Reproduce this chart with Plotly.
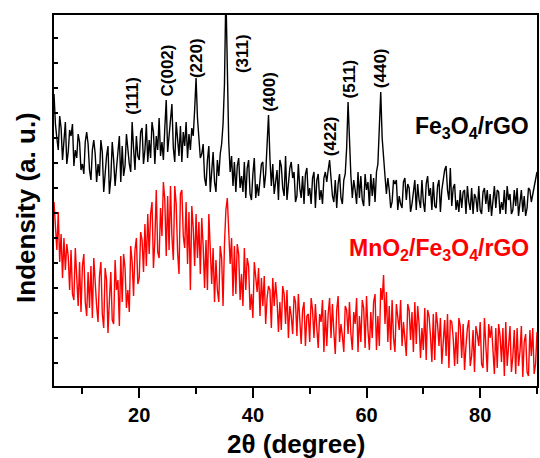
import plotly.graph_objects as go

# 2-theta scan grid (degrees), 0.25 deg step from 5 to 90
two_theta = [5 + 0.25 * i for i in range(341)]

# Fe3O4/rGO intensity (a.u.), 4 points per degree
fe3o4_rgo = [
    292, 262, 248, 236,  270, 258, 226, 244,  264, 222, 234, 256,  250, 262, 220, 236,   # 5-8
    228, 252, 244, 216,  222, 212, 244, 254,  242, 216, 206, 236,  246, 232, 204, 222,   # 9-12
    210, 246, 234, 194,  214, 230, 240, 192,  208, 244, 226, 200,  218, 236, 250, 204,   # 13-16
    240, 210, 220, 252,  232, 222, 214, 264,  238, 216, 250, 230,  226, 254, 258, 222,   # 17-20
    236, 262, 224, 246,  228, 264, 254, 222,  250, 236, 268, 230,  244, 226, 258, 286,   # 21-24
    234, 248, 262, 282,  238, 224, 264, 250,  230, 260, 224, 254,  240, 264, 228, 252,   # 25-28
    236, 258, 250, 276,  308, 268, 244, 228,  232, 242, 208, 200,  226, 240, 194, 214,   # 29-32
    234, 204, 194, 226,  210, 232, 242, 262,  302, 395, 298, 244,  214, 230, 200, 224,   # 33-36
    194, 220, 228, 198,  210, 194, 224, 188,  218, 226, 192, 186,  212, 228, 188, 202,   # 37-40
    190, 206, 222, 224,  198, 212, 236, 271,  228, 200, 222, 192,  204, 216, 186, 226,   # 41-44
    220, 198, 190, 230,  186, 200, 218, 224,  208, 214, 184, 190,  222, 198, 188, 210,   # 45-48
    182, 212, 218, 190,  198, 182, 208, 214,  178, 206, 212, 186,  196, 182, 208, 214,   # 49-52
    204, 216, 226, 208,  190, 184, 206, 178,  202, 212, 188, 182,  206, 212, 238, 284,   # 53-56
    242, 210, 188, 206,  196, 182, 214, 188,  210, 186, 180, 212,  196, 204, 180, 212,   # 57-60
    190, 208, 184, 214,  222, 262, 294, 248,  224, 210, 192, 208,  196, 178, 184, 206,   # 61-64
    202, 206, 176, 190,  182, 178, 204, 208,  186, 202, 198, 174,  182, 194, 206, 176,   # 65-68
    202, 186, 178, 206,  184, 174, 202, 210,  190, 198, 176, 204,  180, 178, 200, 206,   # 69-72
    174, 196, 208, 216,  220, 196, 186, 218,  180, 198, 202, 176,  186, 174, 196, 178,   # 73-76
    194, 196, 172, 200,  184, 176, 198, 172,  192, 188, 174, 200,  176, 172, 194, 198,   # 77-80
    182, 196, 174, 192,  170, 186, 200, 178,  196, 194, 172, 184,  176, 196, 172, 200,   # 81-84
    186, 192, 172, 176,  196, 180, 198, 170,  184, 196, 174, 190,  170, 178, 198, 196,   # 85-88
    184, 192, 200, 210,                                                                   # 89
    214,                                                                                  # 90
]

# MnO2/Fe3O4/rGO intensity (a.u.)
mno2_fe3o4_rgo = [
    184, 162, 136, 174,  124, 152, 108, 148,  116, 142, 130, 96,  136, 92, 86, 138,      # 5-8
    104, 80, 124, 74,  120, 132, 84, 70,  114, 78, 120, 68,  128, 96, 80, 64,            # 9-12
    110, 124, 72, 58,  118, 106, 53, 86,  114, 66, 62, 126,  96, 106, 60, 130,           # 13-16
    84, 132, 118, 78,  96, 74, 140, 124,  90, 136, 148, 102,  108, 154, 146, 114,        # 17-20
    162, 120, 172, 132,  172, 184, 118, 146,  196, 134, 128, 178,  150, 204, 186, 130,   # 21-24
    190, 136, 200, 150,  126, 200, 182, 134,  112, 192, 196, 150,  138, 184, 122, 174,   # 25-28
    96, 180, 158, 120,  172, 128, 164, 112,  168, 140, 98, 146,  96, 172, 132, 102,      # 29-32
    138, 84, 126, 96,  84, 140, 128, 80,  142, 176, 188, 148,  122, 148, 90, 140,        # 33-36
    92, 142, 132, 86,  112, 80, 138, 96,  128, 120, 76, 92,  68, 124, 112, 94,           # 37-40
    118, 70, 108, 80,  110, 62, 88, 100,  96, 58, 108, 80,  104, 86, 54, 84,             # 41-44
    56, 100, 92, 62,  96, 48, 80, 70,  52, 90, 84, 50,  92, 62, 42, 76,                  # 45-48
    84, 40, 70, 72,  44, 88, 76, 48,  82, 58, 38, 72,  64, 86, 34, 76,                   # 49-52
    40, 72, 88, 48,  82, 54, 32, 76,  90, 44, 62, 50,  34, 80, 76, 52,                   # 53-56
    84, 52, 36, 74,  62, 88, 34, 70,  44, 86, 78, 38,  90, 56, 36, 74,                   # 57-60
    48, 84, 92, 36,  70, 40, 98, 86,  111, 62, 94, 44,  80, 36, 86, 48,                  # 61-64
    34, 82, 70, 56,  86, 40, 64, 50,  30, 82, 76, 46,  74, 34, 84, 42,                   # 65-68
    80, 62, 28, 58,  36, 78, 26, 76,  70, 50, 24, 72,  26, 74, 62, 40,                   # 69-72
    68, 22, 44, 66,  30, 72, 18, 66,  64, 48, 20, 54,  22, 68, 60, 28,                   # 73-76
    62, 16, 40, 58,  66, 20, 30, 56,  14, 60, 52, 40,  64, 22, 18, 68,                   # 77-80
    40, 14, 62, 48,  60, 28, 12, 58,  18, 62, 50, 24,  58, 10, 64, 20,                   # 81-84
    42, 60, 14, 30,  56, 12, 58, 20,  34, 60, 9, 44,  52, 14, 10, 56,                    # 85-88
    30, 58, 12, 22,                                                                       # 89
    54,                                                                                   # 90
]

# Peak labels: text, 2theta position, label centre height (a.u.)
peak_labels = ["(111)", "C(002)", "(220)", "(311)", "(400)", "(422)", "(511)", "(440)"]
peak_x = [18.7, 24.8, 30.0, 38.1, 42.8, 53.6, 57.0, 62.4]
peak_y = [290, 315, 328, 332, 294, 250, 307, 318]

assert len(fe3o4_rgo) == len(two_theta) == len(mno2_fe3o4_rgo)

FONT = "Liberation Sans, Arial, Helvetica, sans-serif"

fig = go.Figure()
fig.add_trace(go.Scatter(x=two_theta, y=fe3o4_rgo, mode="lines",
                         line=dict(color="#000000", width=1.4), showlegend=False))
fig.add_trace(go.Scatter(x=two_theta, y=mno2_fe3o4_rgo, mode="lines",
                         line=dict(color="#ff0000", width=1.4), showlegend=False))

annotations = []
for t, x, y in zip(peak_labels, peak_x, peak_y):
    annotations.append(dict(x=x, y=y, xref="x", yref="y", text="<b>%s</b>" % t,
                            textangle=-90, showarrow=False, xanchor="center", yanchor="middle",
                            font=dict(family=FONT, size=17, color="#000000")))

annotations.append(dict(x=88.9, y=259, xref="x", yref="y",
                        text="<b>Fe<sub>3</sub>O<sub>4</sub>/rGO</b>", showarrow=False,
                        xanchor="right", yanchor="middle",
                        font=dict(family=FONT, size=23, color="#000000")))
annotations.append(dict(x=88.9, y=137, xref="x", yref="y",
                        text="<b>MnO<sub>2</sub>/Fe<sub>3</sub>O<sub>4</sub>/rGO</b>", showarrow=False,
                        xanchor="right", yanchor="middle",
                        font=dict(family=FONT, size=23, color="#ff0000")))
annotations.append(dict(x=0.5, y=0, xref="paper", yref="paper", text="<b>2θ (degree)</b>",
                        showarrow=False, xanchor="center", yanchor="middle", yshift=-58,
                        font=dict(family=FONT, size=26, color="#000000")))
annotations.append(dict(x=0, y=0.48, xref="paper", yref="paper", text="<b>Indensity (a. u.)</b>",
                        showarrow=False, xanchor="center", yanchor="middle", xshift=-28,
                        textangle=-90, font=dict(family=FONT, size=26, color="#000000")))

fig.update_layout(
    width=540, height=458,
    margin=dict(l=54, r=1, t=15, b=72),
    paper_bgcolor="white", plot_bgcolor="white",
    showlegend=False,
    annotations=annotations,
    xaxis=dict(range=[5, 90], tick0=0, dtick=20, ticks="outside", ticklen=10, tickwidth=2,
               tickcolor="black", showline=True, linewidth=2, linecolor="black", mirror=True,
               showgrid=False, zeroline=False,
               tickfont=dict(family=FONT, size=20, color="black", weight="bold"),
               minor=dict(dtick=10, ticks="outside", ticklen=6, tickwidth=2, tickcolor="black",
                          showgrid=False)),
    xaxis2=dict(range=[5, 90], overlaying="x", side="top", anchor="y", tick0=0, dtick=10,
                ticks="inside", ticklen=4, tickwidth=1.5, tickcolor="black",
                showticklabels=False, showline=False, showgrid=False, zeroline=False),
    yaxis=dict(range=[0, 371], tick0=22.7, dtick=25, ticks="inside", ticklen=4, tickwidth=1.5,
               tickcolor="black", showticklabels=False, showline=True, linewidth=2,
               linecolor="black", mirror=True, showgrid=False, zeroline=False),
)

fig.write_html("out.html", config={"displayModeBar": False},
               post_script="document.body.style.margin='0';")
